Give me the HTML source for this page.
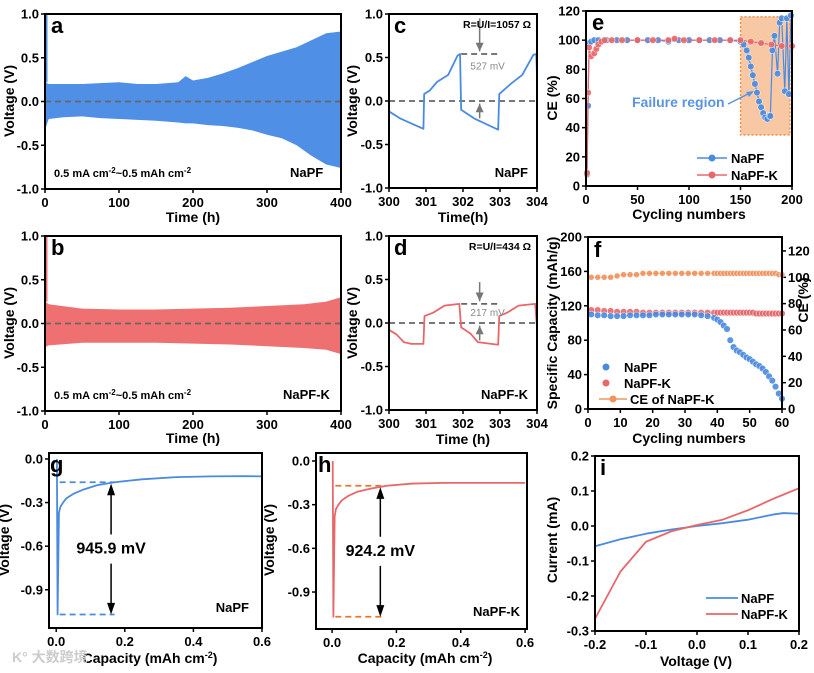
<!DOCTYPE html>
<html><head><meta charset="utf-8"><style>
html,body{margin:0;padding:0;background:#fff}
svg{display:block;font-family:"Liberation Sans",Arial,sans-serif;font-weight:bold}
</style></head><body>
<svg id="fig" width="814" height="673" viewBox="0 0 814 673" xmlns="http://www.w3.org/2000/svg"></svg>
<script>
// ---- data ----
const aTimes=[0,5,25,50,75,100,125,150,180,190,200,220,240,260,280,300,320,340,360,380,400];
const aTop=[0.22,0.2,0.2,0.2,0.21,0.22,0.2,0.2,0.22,0.29,0.24,0.27,0.32,0.38,0.45,0.52,0.57,0.62,0.7,0.78,0.8];
const aBot=[-0.32,-0.2,-0.18,-0.17,-0.19,-0.2,-0.21,-0.22,-0.24,-0.25,-0.25,-0.27,-0.28,-0.3,-0.33,-0.38,-0.42,-0.5,-0.62,-0.72,-0.76];
const bTimes=[0,5,50,100,150,200,250,300,350,380,400];
const bTop=[0.25,0.22,0.17,0.16,0.16,0.17,0.18,0.2,0.22,0.25,0.3];
const bBot=[-0.27,-0.25,-0.22,-0.22,-0.22,-0.23,-0.24,-0.26,-0.28,-0.3,-0.35];
const cT=[300,300.3,300.93,300.95,301.1,301.3,301.6,301.85,301.92,301.95,302.3,302.95,302.98,303.3,303.6,303.9,303.98,304];
const cV=[-0.12,-0.2,-0.32,0.08,0.12,0.22,0.3,0.52,0.54,-0.1,-0.2,-0.33,0.08,0.2,0.3,0.53,0.54,0.3];
const dT=[300,300.2,300.4,300.6,300.93,300.96,301.2,301.5,301.9,301.95,302.2,302.4,302.95,302.98,303.2,303.5,303.95,304];
const dV=[-0.08,-0.13,-0.22,-0.24,-0.24,0.08,0.12,0.2,0.22,-0.05,-0.12,-0.22,-0.25,0.08,0.12,0.2,0.22,-0.05];
const eCycA=[1,2,3,5,8,12,20,30,40,50,60,70,80,90,100,110,120,130,140,150,153,156,158,160,162,164,166,168,170,172,174,176,178,179,181,183,186,188,190,193,195,197,199];
const eCEA=[8,55,98,99,100,100,100,100,100,100,100,100,99,100,100,100,100,100,100,99,97,93,88,82,76,70,64,58,54,50,47,46,48,48,93,103,77,112,115,65,115,63,117];
const eCycB=[1,2,3,5,8,10,12,15,18,25,35,50,65,80,86,95,110,125,140,150,160,170,180,190,200];
const eCEB=[9,64,95,89,91,94,97,99,100,100,100,100,100,100,101,100,100,100,100,100,99,98,97,96,96];
const fCyc=[1,3,5,7,9,11,13,15,17,19,21,23,25,27,29,31,33,35,37,39,40,41,42,43,44,45,46,47,48,49,50,51,52,53,54,55,56,57,58,59,60];
const fCapA=[110,109,109,108,108,108,109,109,109,109,110,110,110,110,110,110,110,109,108,106,104,101,97,93,80,72,68,66,63,60,58,55,52,50,47,43,38,33,26,18,12];
const fCapB=[115,115,114,114,113,113,113,113,112,112,112,112,112,112,112,112,112,112,112,112,112,112,112,112,112,112,112,112,112,112,112,112,111,111,111,111,111,111,111,111,111];
const fCE=[100,100,100,100,101,102,102,102,103,103,103,103,103,103,103,103,103,103,103,103,103,103,103,103,103,103,103,103,103,103,103,103,103,103,103,103,103,103,103,102,102];
const gCap=[0.002,0.004,0.008,0.012,0.02,0.03,0.05,0.08,0.12,0.17,0.25,0.35,0.45,0.55,0.6];
const gV=[0,-1.07,-0.37,-0.33,-0.3,-0.27,-0.24,-0.21,-0.18,-0.16,-0.14,-0.125,-0.12,-0.118,-0.12];
const hCap=[0.002,0.004,0.008,0.012,0.02,0.03,0.05,0.08,0.12,0.17,0.25,0.35,0.45,0.55,0.6];
const hV=[0,-1.07,-0.38,-0.33,-0.3,-0.27,-0.24,-0.21,-0.19,-0.17,-0.155,-0.15,-0.15,-0.15,-0.15];
const iV=[-0.2,-0.15,-0.1,-0.05,0,0.05,0.1,0.15,0.17,0.2];
const iA=[-0.058,-0.038,-0.022,-0.01,0,0.008,0.018,0.033,0.037,0.035];
const iB=[-0.265,-0.13,-0.045,-0.015,0.003,0.018,0.045,0.078,0.09,0.108];
const BLUE="#4a8be0",RED="#e8676a",ORANGE="#f2935f";

const NS="http://www.w3.org/2000/svg";
const svg=document.getElementById('fig');
function el(tag,attrs,parent,text){const e=document.createElementNS(NS,tag);for(const k in attrs)e.setAttribute(k,attrs[k]);if(text!==undefined)e.textContent=text;(parent||svg).appendChild(e);return e;}
function lin(d0,d1,r0,r1){return v=>r0+(v-d0)/(d1-d0)*(r1-r0);}
function fmt(v,dec){return v.toFixed(dec);}
function panel(name,box,xd,yd,xt,yt,xdec,ydec){
  const g=el('g',{});
  
  
  const X=lin(xd[0],xd[1],box[0],box[2]),Y=lin(yd[0],yd[1],box[3],box[1]);
  const ax=el('g',{},g);
  
  
  xt.forEach(v=>{const x=X(v);el('line',{x1:x,x2:x,y1:box[3],y2:box[3]+4,stroke:'#000','stroke-width':1.5},ax);
    el('text',{x:x,y:box[3]+18,'font-size':13,'text-anchor':'middle'},ax,fmt(v,xdec));});
  const ay=el('g',{},g);
  
  
  yt.forEach(v=>{const y=Y(v);el('line',{x1:box[0]-4,x2:box[0],y1:y,y2:y,stroke:'#000','stroke-width':1.5},ay);
    el('text',{x:box[0]-6,y:y+4.5,'font-size':13,'text-anchor':'end'},ay,fmt(v,ydec));});
  return {g,X,Y,box};
}
function frame(p){el('rect',{x:p.box[0],y:p.box[1],width:p.box[2]-p.box[0],height:p.box[3]-p.box[1],fill:'none',stroke:'#000','stroke-width':2},p.g);}
function title(p,txt,x,y,rot,name){const t=el('text',{x:x,y:y,'font-size':14,'text-anchor':'middle',transform:rot?`rotate(-90 ${x} ${y})`:''},p.g,'');t.innerHTML=txt;
  
  return t;}
function letter(p,l,x,y){const t=el('text',{x:x,y:y,'font-size':22},p.g,l);
  
  }
function poly(p,xs,ys,color,w,name,X,Y){X=X||p.X;Y=Y||p.Y;const pts=xs.map((v,i)=>X(v)+','+Y(ys[i])).join(' ');
  const e=el('polyline',{points:pts,fill:'none',stroke:color,'stroke-width':w||1.8,'stroke-linejoin':'round'},p.g);
  
  return e;}
function dash(p,x1,y1,x2,y2,color){el('line',{x1,y1,x2,y2,stroke:color,'stroke-width':1.8,'stroke-dasharray':'6,4'},p.g);}
function band(p,ts,top,bot,color,name){
  let pts=ts.map((t,i)=>p.X(t)+','+p.Y(top[i]));
  for(let i=ts.length-1;i>=0;i--)pts.push(p.X(ts[i])+','+p.Y(bot[i]));
  const e=el('polygon',{points:pts.join(' '),fill:color},p.g);
  
  
  const s=el('line',{x1:p.X(ts[0])+1,x2:p.X(ts[0])+1,y1:p.Y(1),y2:p.Y(top[0]),stroke:color,'stroke-width':3},p.g);
  
  
}
function markers(p,xs,ys,color,r,name,X,Y){X=X||p.X;Y=Y||p.Y;const g=el('g',{},p.g);
  
  
  xs.forEach((v,i)=>{el('circle',{cx:X(v),cy:Y(ys[i]),r:r,fill:color,stroke:'#fff','stroke-width':0.5,'fill-opacity':0.9},g);});}
const vt=[1,0.5,0,-0.5,-1];

// a
let a=panel('panel-a',[45,14,341,189],[0,400],[-1,1],[0,100,200,300,400],vt,0,1);
band(a,aTimes,aTop,aBot,"#4f8fe6",'napf-voltage-band');
dash(a,45,a.Y(0),341,a.Y(0),'#666');
frame(a);letter(a,'a',51,33);
title(a,'Time (h)',193,222,false,'x-axis-title-a');title(a,'Voltage (V)',14,101,true,'y-axis-title-a');
el('text',{x:54,y:177,'font-size':11},a.g,'').innerHTML='0.5 mA cm<tspan dy="-4" font-size="8">-2</tspan><tspan dy="4">~0.5 mAh cm</tspan><tspan dy="-4" font-size="8">-2</tspan>';
el('text',{x:290,y:177,'font-size':13},a.g,'NaPF');
// b
let b=panel('panel-b',[45,236,341,411],[0,400],[-1,1],[0,100,200,300,400],vt,0,1);
band(b,bTimes,bTop,bBot,"#ee7070",'napfk-voltage-band');
dash(b,45,b.Y(0),341,b.Y(0),'#666');
frame(b);letter(b,'b',51,255);
title(b,'Time (h)',193,443,false,'x-axis-title-b');title(b,'Voltage (V)',14,323,true,'y-axis-title-b');
el('text',{x:54,y:399,'font-size':11},b.g,'').innerHTML='0.5 mA cm<tspan dy="-4" font-size="8">-2</tspan><tspan dy="4">~0.5 mAh cm</tspan><tspan dy="-4" font-size="8">-2</tspan>';
el('text',{x:283,y:399,'font-size':13},b.g,'NaPF-K');
// c
let c=panel('panel-c',[389,14,537,188],[300,304],[-1,1],[300,301,302,303,304],vt,0,1);
dash(c,389,c.Y(0),537,c.Y(0),'#666');dash(c,c.X(301.95),c.Y(0.54),c.X(302.95),c.Y(0.54),'#666');
poly(c,cT,cV,BLUE,1.8,'napf-voltage-line');
el('path',{d:`M${c.X(302.45)} ${c.Y(0.95)}V${c.Y(0.57)}M${c.X(302.45)} ${c.Y(-0.2)}V${c.Y(-0.03)}`,stroke:'#777','stroke-width':1.5},c.g);
el('path',{d:`M${c.X(302.45)-4} ${c.Y(0.67)}L${c.X(302.45)} ${c.Y(0.57)}L${c.X(302.45)+4} ${c.Y(0.67)}ZM${c.X(302.45)-4} ${c.Y(-0.13)}L${c.X(302.45)} ${c.Y(-0.03)}L${c.X(302.45)+4} ${c.Y(-0.13)}Z`,fill:'#777'},c.g);
el('text',{x:c.X(302.2),y:c.Y(0.36),'font-size':10,fill:'#888','font-weight':'normal'},c.g,'527 mV');
frame(c);letter(c,'c',394,33);
el('text',{x:531,y:28,'font-size':10.5,'text-anchor':'end'},c.g,'R=U/I=1057 Ω');
el('text',{x:528,y:177,'font-size':13,'text-anchor':'end'},c.g,'NaPF');
title(c,'Time(h)',463,222,false,'x-axis-title-c');title(c,'Voltage (V)',357,101,true,'y-axis-title-c');
// d
let d=panel('panel-d',[389,236,537,410],[300,304],[-1,1],[300,301,302,303,304],vt,0,1);
dash(d,389,d.Y(0),537,d.Y(0),'#666');dash(d,d.X(301.95),d.Y(0.22),d.X(302.95),d.Y(0.22),'#666');
poly(d,dT,dV,RED,1.8,'napfk-voltage-line');
el('path',{d:`M${d.X(302.45)} ${d.Y(0.47)}V${d.Y(0.25)}M${d.X(302.45)} ${d.Y(-0.2)}V${d.Y(-0.03)}`,stroke:'#777','stroke-width':1.5},d.g);
el('path',{d:`M${d.X(302.45)-4} ${d.Y(0.35)}L${d.X(302.45)} ${d.Y(0.25)}L${d.X(302.45)+4} ${d.Y(0.35)}ZM${d.X(302.45)-4} ${d.Y(-0.13)}L${d.X(302.45)} ${d.Y(-0.03)}L${d.X(302.45)+4} ${d.Y(-0.13)}Z`,fill:'#777'},d.g);
el('text',{x:d.X(302.2),y:d.Y(0.08),'font-size':10,fill:'#888','font-weight':'normal'},d.g,'217 mV');
frame(d);letter(d,'d',394,255);
el('text',{x:531,y:250,'font-size':10.5,'text-anchor':'end'},d.g,'R=U/I=434 Ω');
el('text',{x:528,y:399,'font-size':13,'text-anchor':'end'},d.g,'NaPF-K');
title(d,'Time (h)',463,444,false,'x-axis-title-d');title(d,'Voltage (V)',357,323,true,'y-axis-title-d');
// e
let e=panel('panel-e',[586,11,792,186],[0,200],[0,120],[0,50,100,150,200],[0,20,40,60,80,100,120],0,0);
const fr=el('rect',{x:e.X(150),y:e.Y(116),width:e.X(198)-e.X(150),height:e.Y(35)-e.Y(116),fill:'#f8c8a4',stroke:'#f08a3a','stroke-width':1.3,'stroke-dasharray':'2,2'},e.g);


poly(e,eCycA,eCEA,BLUE,1.2,'napf-ce-line');markers(e,eCycA,eCEA,BLUE,3.3,'napf-ce-markers');
poly(e,eCycB,eCEB,RED,1.2,'napfk-ce-line');markers(e,eCycB,eCEB,RED,3.3,'napfk-ce-markers');
el('text',{x:632,y:107,'font-size':14,fill:'#5a93e0'},e.g,'Failure region');
el('path',{d:'M728 104L752 92',stroke:'#5a93e0','stroke-width':1.5},e.g);
el('path',{d:'M754 91L746 92L749 97Z',fill:'#5a93e0'},e.g);
[[BLUE,'NaPF',158],[RED,'NaPF-K',175]].forEach(([col,t,y])=>{el('line',{x1:697,x2:727,y1:y,y2:y,stroke:col,'stroke-width':1.5},e.g);el('circle',{cx:712,cy:y,r:3.5,fill:col},e.g);
  const tx=el('text',{x:731,y:y+5,'font-size':13},e.g,t);});
frame(e);letter(e,'e',592,30);
title(e,'Cycling numbers',689,219,false,'x-axis-title-e');title(e,'CE (%)',557,98,true,'y-axis-title-e');
// f
let f=panel('panel-f',[588,237,782,409],[0,60],[0,200],[0,10,20,30,40,50,60],[0,40,80,120,160,200],0,0);
const YR=lin(0,130.6,409,237);
[0,20,40,60,80,100,120].forEach(v=>{const y=YR(v);el('line',{x1:782,x2:786,y1:y,y2:y,stroke:'#000','stroke-width':1.5},f.g);el('text',{x:788,y:y+4.5,'font-size':13},f.g,v);});
poly(f,fCyc,fCE,ORANGE,1.2,'napfk-ce-line',f.X,YR);markers(f,fCyc,fCE,ORANGE,3,'napfk-ce-markers',f.X,YR);
markers(f,fCyc,fCapB,RED,3.3,'napfk-capacity-markers');
markers(f,fCyc,fCapA,BLUE,3.3,'napf-capacity-markers');
[[BLUE,'NaPF',367,false],[RED,'NaPF-K',383,false],[ORANGE,'CE of NaPF-K',399,true]].forEach(([col,t,y,ln])=>{
  if(ln)el('line',{x1:599,x2:627,y1:y,y2:y,stroke:col,'stroke-width':1.5},f.g);
  el('circle',{cx:ln?613:606,cy:y,r:3.5,fill:col},f.g);
  const tx=el('text',{x:ln?630:624,y:y+5,'font-size':13},f.g,t);});
frame(f);letter(f,'f',594,257);
title(f,'Cycling numbers',689,443,false,'x-axis-title-f');title(f,'Specific Capacity (mAh/g)',557,323,true,'y-axis-title-f');
title(f,'CE (%)',808,300,true,'y2-axis-title-f');
// g
let g=panel('panel-g',[49,453,262,628],[-0.021,0.6],[-1.163,0.041],[0,0.2,0.4,0.6],[0,-0.3,-0.6,-0.9],1,1);
dash(g,g.X(0.01),g.Y(-0.16),g.X(0.17),g.Y(-0.16),BLUE);dash(g,g.X(0.01),g.Y(-1.07),g.X(0.17),g.Y(-1.07),BLUE);
poly(g,gCap,gV,BLUE,1.8,'napf-nucleation-curve');
el('path',{d:`M${g.X(0.16)} ${g.Y(-0.19)}V${g.Y(-0.52)}M${g.X(0.16)} ${g.Y(-0.72)}V${g.Y(-1.04)}`,stroke:'#000','stroke-width':1.5},g.g);
el('path',{d:`M${g.X(0.16)-4} ${g.Y(-0.25)}L${g.X(0.16)} ${g.Y(-0.17)}L${g.X(0.16)+4} ${g.Y(-0.25)}ZM${g.X(0.16)-4} ${g.Y(-0.99)}L${g.X(0.16)} ${g.Y(-1.07)}L${g.X(0.16)+4} ${g.Y(-0.99)}Z`,fill:'#000'},g.g);
el('text',{x:g.X(0.16),y:g.Y(-0.61)+6,'font-size':16,'text-anchor':'middle'},g.g,'945.9 mV');
el('text',{x:249,y:612,'font-size':13,'text-anchor':'end'},g.g,'NaPF');
frame(g);letter(g,'g',50,472);
title(g,'',150,663,false,'x-axis-title-g').innerHTML='Capacity (mAh cm<tspan dy="-5" font-size="9">-2</tspan><tspan dy="5">)</tspan>';
title(g,'Voltage (V)',9,540,true,'y-axis-title-g');
el('text',{x:12,y:662,'font-size':14,fill:'#ccc','font-family':'"Liberation Sans","Noto Sans CJK SC",sans-serif'},g.g,'K° 大数跨境');
// h
let h=panel('panel-h',[316,453,527,629],[-0.05,0.606],[-1.154,0.055],[0,0.2,0.4,0.6],[0,-0.3,-0.6,-0.9],1,1);
dash(h,h.X(0.01),h.Y(-0.17),h.X(0.16),h.Y(-0.17),'#e8762f');dash(h,h.X(0.01),h.Y(-1.07),h.X(0.16),h.Y(-1.07),'#e8762f');
poly(h,hCap,hV,RED,1.8,'napfk-nucleation-curve');
el('path',{d:`M${h.X(0.15)} ${h.Y(-0.2)}V${h.Y(-0.52)}M${h.X(0.15)} ${h.Y(-0.72)}V${h.Y(-1.04)}`,stroke:'#000','stroke-width':1.5},h.g);
el('path',{d:`M${h.X(0.15)-4} ${h.Y(-0.26)}L${h.X(0.15)} ${h.Y(-0.18)}L${h.X(0.15)+4} ${h.Y(-0.26)}ZM${h.X(0.15)-4} ${h.Y(-0.99)}L${h.X(0.15)} ${h.Y(-1.07)}L${h.X(0.15)+4} ${h.Y(-0.99)}Z`,fill:'#000'},h.g);
el('text',{x:h.X(0.15),y:h.Y(-0.61)+6,'font-size':16,'text-anchor':'middle'},h.g,'924.2 mV');
el('text',{x:520,y:616,'font-size':13,'text-anchor':'end'},h.g,'NaPF-K');
frame(h);letter(h,'h',318,472);
title(h,'',425,663,false,'x-axis-title-h').innerHTML='Capacity (mAh cm<tspan dy="-5" font-size="9">-2</tspan><tspan dy="5">)</tspan>';
title(h,'Voltage (V)',274,540,true,'y-axis-title-h');
// i
let ip=panel('panel-i',[595,456,799,631],[-0.2,0.2],[-0.3,0.2],[-0.2,-0.1,0,0.1,0.2],[0.2,0.1,0,-0.1,-0.2,-0.3],1,1);
poly(ip,iV,iA,BLUE,1.8,'napf-iv-curve');poly(ip,iV,iB,RED,1.8,'napfk-iv-curve');
[[BLUE,'NaPF',598],[RED,'NaPF-K',614]].forEach(([col,t,y])=>{el('line',{x1:706,x2:738,y1:y,y2:y,stroke:col,'stroke-width':1.8},ip.g);
  const tx=el('text',{x:741,y:y+5,'font-size':13},ip.g,t);});
frame(ip);letter(ip,'i',600,475);
title(ip,'Voltage (V)',696,666,false,'x-axis-title-i');title(ip,'Current (mA)',557,540,true,'y-axis-title-i');
</script>
</body></html>
